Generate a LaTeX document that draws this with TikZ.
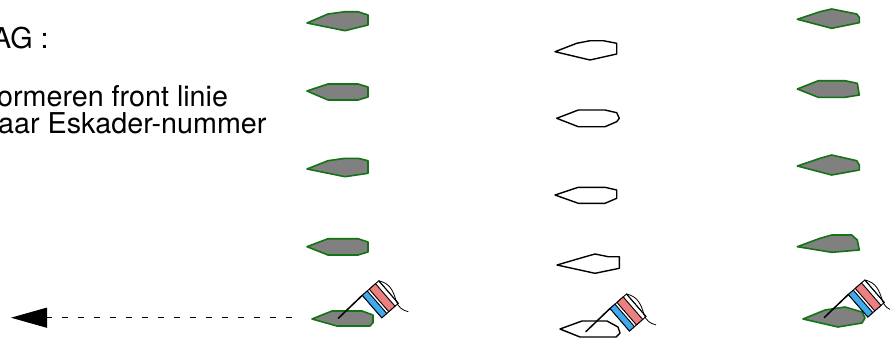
\documentclass[tikz,border=0pt]{standalone}
\usepackage{fontspec}
\setmainfont{TeX Gyre Heros}
\usetikzlibrary{arrows.meta}
\definecolor{boatgreen}{RGB}{20,115,20}
\definecolor{boatgray}{RGB}{128,128,128}
\definecolor{flagred}{RGB}{236,128,128}
\definecolor{flagblue}{RGB}{64,170,240}
\tikzset{
  greenboat/.style={fill=boatgray,draw=boatgreen,line width=1.6pt,line join=round},
  whiteboat/.style={fill=white,draw=black,line width=1.4pt,line join=round},
  poleline/.style={draw=black,line width=1.5pt,line cap=round},
  stripe/.style={draw=black,line width=0.9pt},
  label/.style={inner sep=0pt,anchor=base west,font=\fontsize{28.7}{34}\selectfont},
  signalflag/.pic={
    \draw[poleline] (-24,23) -- (0,0);
    \filldraw[stripe,fill=white] (0,0) -- (16.5,-14.5) -- (36,8) -- (19.5,22.5) -- cycle;
    \filldraw[stripe,fill=flagblue] (0,0) -- (4.95,-4.35) -- (24.45,18.15) -- (19.5,22.5) -- cycle;
    \filldraw[stripe,fill=flagred] (6.93,-6.09) -- (13.2,-11.6) -- (32.7,10.9) -- (26.43,16.41) -- cycle;
    \draw[stripe] (16.5,-14.5) -- (36,8);
    \draw[black,line width=0.8pt] (16.5,-14.5) .. controls (28,-12) and (31,-4) .. (34,6)
      .. controls (36,12) and (40,15) .. (46,16.4);
  }
}
\begin{document}
\begin{tikzpicture}[x=1pt,y=-1pt]
\useasboundingbox (0,0) rectangle (890,340);

% text
\node[label] (t1) at (-8,48) {AG :};
\node[label] (t2) at (-3,106.7) {ormeren front linie};
\node[label] (t3) at (-2,133.3) {aar Eskader-nummer};

% column 1
\filldraw[greenboat] (307,23) -- (328,14) -- (345,11.7) -- (358,11.7) -- (368,15) -- (368,25) -- (345,30.7) -- cycle;
\filldraw[greenboat] (307,91) -- (328,84) -- (358,84) -- (368,87) -- (368,97) -- (358,100) -- (328,100) -- cycle;
\filldraw[greenboat] (307,169) -- (328,160.7) -- (345,158.3) -- (358,158.3) -- (368,160.7) -- (368,173.3) -- (345,176.7) -- cycle;
\filldraw[greenboat] (307,246.7) -- (328,238.7) -- (358,238.7) -- (368,242) -- (368,252) -- (358,255) -- (328,255) -- cycle;
\filldraw[greenboat] (312,319) -- (332,311) -- (362,311) -- (373,315) -- (373,322.7) -- (370,326) -- (337,326) -- cycle;
\pic at (362.3,295.3) {signalflag};

% column 2
\filldraw[whiteboat] (555,51.7) -- (576.7,43.3) -- (590,40.7) -- (603.3,40.7) -- (616.7,43.3) -- (616.7,54) -- (590,60) -- cycle;
\filldraw[whiteboat] (556.7,118.3) -- (578.3,110) -- (605,110) -- (616.7,112.7) -- (619.3,118.3) -- (616.7,121.7) -- (605,126.7) -- (578.3,126.7) -- cycle;
\filldraw[whiteboat] (555,195) -- (578.3,187.3) -- (605,187.3) -- (616.7,190) -- (616.7,198.3) -- (605,203.3) -- (578.3,203.3) -- cycle;
\filldraw[whiteboat] (557,265) -- (583.3,257.3) -- (595,254) -- (608.3,256.7) -- (619.3,256.7) -- (619.3,268.3) -- (595,273.3) -- cycle;
\filldraw[whiteboat] (560,329) -- (582,321) -- (607,321) -- (618,327) -- (620,333) -- (616,337) -- (580,337) -- cycle;
\pic at (610,308.5) {signalflag};

% column 3
\filldraw[greenboat] (797.3,19.3) -- (820,11.7) -- (831.7,9) -- (856.7,14) -- (859.3,17.3) -- (859.3,22.7) -- (831.7,28.3) -- cycle;
\filldraw[greenboat] (797.3,89) -- (818.3,80.7) -- (845,80.7) -- (857.3,83.3) -- (859.3,95) -- (845,97.3) -- (818.3,97.3) -- cycle;
\filldraw[greenboat] (797.3,166) -- (820,158.3) -- (831.7,155) -- (856.7,160.7) -- (859.3,165) -- (859.3,170) -- (831.7,175) -- cycle;
\filldraw[greenboat] (797.3,246.7) -- (820,238.3) -- (831.7,235) -- (851.7,235) -- (857.3,240) -- (859.3,250) -- (831.7,252.3) -- cycle;
\filldraw[greenboat] (803,319) -- (825,310) -- (845,307) -- (862,312) -- (865,318) -- (862,323) -- (838,327) -- cycle;
\pic at (848.3,294.5) {signalflag};

% arrow
\coordinate (dashstart) at (292,317.7);
\coordinate (arrowtip) at (11,317.7);
\draw[line width=1.2pt,dash pattern=on 6.5pt off 9.5pt,-{Triangle[length=36pt,width=20pt]}] (dashstart) -- (arrowtip);
\end{tikzpicture}
\end{document}
